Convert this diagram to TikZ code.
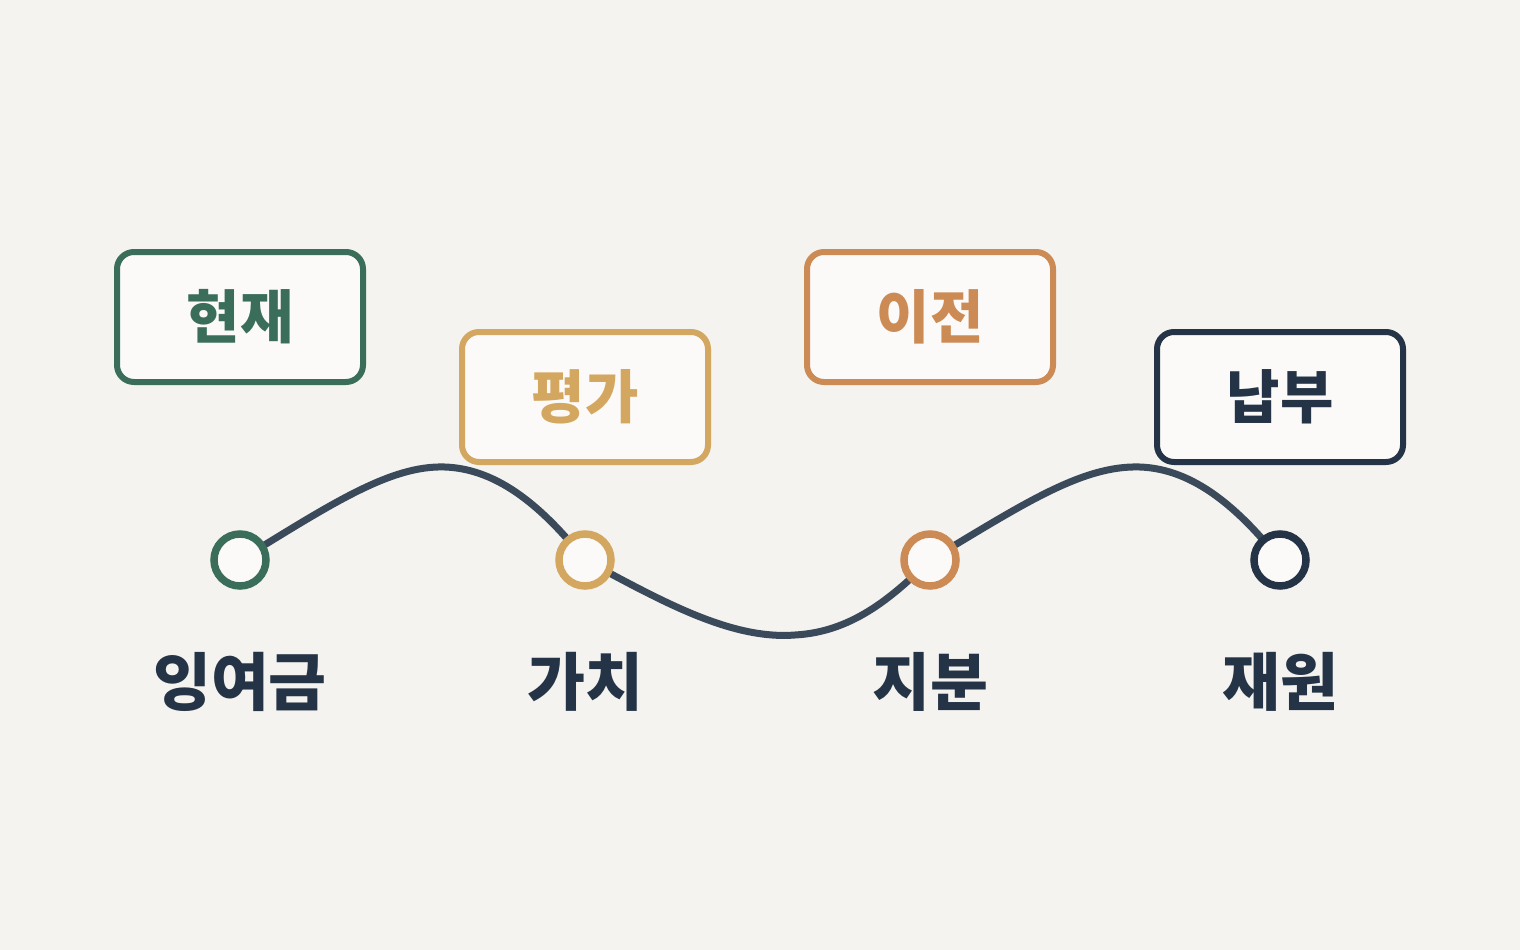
\documentclass[tikz,border=0pt]{standalone}
\usepackage{fontspec}
\setmainfont{Noto Sans CJK KR}
\begin{document}
\begin{tikzpicture}[x=1pt,y=-1pt,
  dot/.style={circle,draw=#1,line width=7.5pt,fill=white!60!bgc,minimum size=52pt,inner sep=0pt},
  box/.style={draw=#1,line width=6pt,rounded corners=17pt,fill=white!60!bgc,minimum width=246pt,minimum height=130pt,text=#1,font=\fontsize{58}{64}\selectfont\bfseries},
  lab/.style={text=navy,font=\fontsize{63}{70}\selectfont\bfseries},
  link/.style={draw=line,line width=7pt}]
\definecolor{bgc}{HTML}{F4F3EF}
\definecolor{green}{HTML}{3A6E5A}
\definecolor{gold}{HTML}{D4A760}
\definecolor{orng}{HTML}{CC8A55}
\definecolor{navy}{HTML}{243446}
\definecolor{line}{HTML}{3A4A5A}
\fill[bgc] (0,0) rectangle (1520,950);
\useasboundingbox (0,0) rectangle (1520,950);
\coordinate (p1) at (240,560);
\coordinate (p2) at (585,560);
\coordinate (p3) at (930,560);
\coordinate (p4) at (1280,560);
\draw[link] (p1) .. controls (330,505) and (390,465) .. (445,467) .. controls (500,469) and (545,510) .. (p2);
\draw[link] (p2) .. controls (660,600) and (730,640) .. (795,635) .. controls (850,632) and (890,600) .. (p3);
\draw[link] (p3) .. controls (1022,505) and (1082,465) .. (1140,467) .. controls (1195,469) and (1240,510) .. (p4);
\node[dot=green] (c1) at (p1) {};
\node[dot=gold] (c2) at (p2) {};
\node[dot=orng] (c3) at (p3) {};
\node[dot=navy] (c4) at (p4) {};
\node[box=green] (b1) at (240,317) {현재};
\node[box=gold] (b2) at (585,397) {평가};
\node[box=orng] (b3) at (930,317) {이전};
\node[box=navy] (b4) at (1280,397) {납부};
\node[lab] (l1) at (240,682) {잉여금};
\node[lab] (l2) at (585,682) {가치};
\node[lab] (l3) at (930,682) {지분};
\node[lab] (l4) at (1280,682) {재원};
\end{tikzpicture}
\end{document}
